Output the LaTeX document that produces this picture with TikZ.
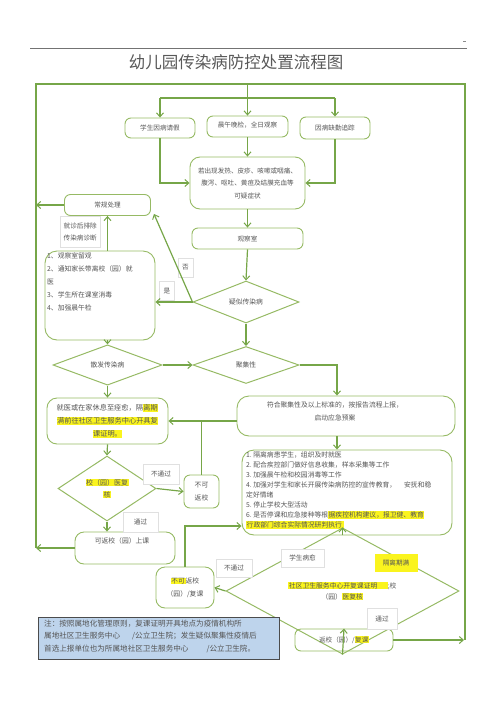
\documentclass[tikz,border=0pt]{standalone}
\usepackage{fontspec}
\setmainfont{Noto Sans CJK SC}
\usetikzlibrary{shapes.geometric,arrows.meta}
\definecolor{gline}{RGB}{118,166,72}
\definecolor{bline}{RGB}{150,186,100}
\definecolor{txt}{RGB}{85,85,85}
\definecolor{hly}{RGB}{250,244,30}
\definecolor{notebg}{RGB}{190,212,236}
\newcommand{\hlt}[1]{{\setlength{\fboxsep}{0.5pt}\colorbox{hly}{#1}}}
\begin{document}
\begin{tikzpicture}[x=1pt,y=-1pt,
 con/.style={draw=gline, line width=1.2pt},
 arr/.style={con, -{Straight Barb[length=4pt,width=7pt,line width=1pt]}},
 box/.style={draw=bline, line width=0.9pt, rounded corners=6pt, text=txt, inner sep=0pt, align=center, font=\fontsize{6.6}{12.5}\selectfont},
 dia/.style={diamond, draw=bline, line width=1pt, inner sep=0pt, text=txt, align=center, font=\fontsize{6.8}{12}\selectfont},
 lab/.style={draw=black!12, fill=white, text=txt, inner sep=0pt, font=\fontsize{6.6}{8}\selectfont},
 txtn/.style={text=txt, inner sep=0pt, align=left, font=\fontsize{6.8}{12.8}\selectfont},
]
\useasboundingbox (0,0) rectangle (496,702);
% header
\draw[black!55, line width=0.6pt] (30,48) -- (467,48);
\draw[black!45, line width=0.5pt] (463,41) -- (466,41);
\node[text=black!65, font=\fontsize{16.5}{18}\selectfont, inner sep=0pt] (title) at (236,62) {幼儿园传染病防控处置流程图};

% nodes
\node[box, minimum width=70pt, minimum height=20pt] (sick) at (160,128) {学生因病请假};
\node[box, minimum width=81pt, minimum height=21pt, text depth=3pt] (check) at (247.5,126.5) {晨午晚检，全日观察};
\node[box, minimum width=70pt, minimum height=22pt] (absent) at (335,128) {因病缺勤追踪};
\node[box, minimum width=115pt, minimum height=52pt, rounded corners=10pt] (sym) at (247.5,183) {若出现发热、皮疹、咳嗽或咽痛、\\腹泻、呕吐、黄疸及结膜充血等\\可疑症状};
\node[box, minimum width=86pt, minimum height=21pt] (routine) at (107.5,205) {常规处理};
\node[lab, minimum width=40pt, minimum height=31pt, align=left, font=\fontsize{6.6}{12}\selectfont, anchor=north west] (excl) at (60,216) {就诊后排除\\传染病诊断};
\node[box, minimum width=111pt, minimum height=21pt] (obs) at (247.5,238.5) {观察室};
\node[dia, minimum width=106pt, minimum height=42pt] (susp) at (246,302) {疑似传染病};
\node[box, minimum width=110pt, minimum height=89pt, rounded corners=12pt] (steps) at (100,295.5) {};
\node[txtn, anchor=north west] (stepst) at (47,253) {1、观察室留观\\2、通知家长带离校（园）就\\医\\3、学生所在课室消毒\\4、加强晨午检};
\node[dia, minimum width=109pt, minimum height=37pt] (sporadic) at (107.5,365) {散发传染病};
\node[dia, minimum width=106pt, minimum height=37pt] (cluster) at (246,365) {聚集性};
\node[box, minimum width=121pt, minimum height=46pt, rounded corners=10pt, font=\fontsize{7.2}{13}\selectfont] (recover) at (107.5,421) {就医或在家休息至痊愈，隔\hlt{离期}\\\hlt{满前往社区卫生服务中心开具复}\\\hlt{课证明。}};
\node[box, minimum width=218pt, minimum height=40pt, rounded corners=12pt] (report) at (346,416) {};
\node[txtn, align=center, font=\fontsize{6.8}{13}\selectfont] (reportt) at (335,411) {符合聚集性及以上标准的，按报告流程上报，\\启动应急预案};
\node[box, minimum width=210pt, minimum height=85pt, rounded corners=12pt] (bigbox) at (347,492.5) {};
\node[txtn, anchor=north west, font=\fontsize{6.8}{10}\selectfont] (bigt) at (246,451.5) {1.\ 隔离病患学生，组织及时就医\\2.\ 配合疾控部门做好信息收集，样本采集等工作\\3.\ 加强晨午检和校园消毒等工作\\4.\ 加强对学生和家长开展传染病防控的宣传教育，\hspace{8pt}安抚和稳\\定好情绪\\5.\ 停止学校大型活动\\6.\ 是否停课和应急接种等根\hlt{据疾控机构建议，报卫健、教育}\\\hlt{行政部门综合实际情况研判执行\ }};
\node[dia, minimum width=98pt, minimum height=65pt, font=\fontsize{7}{12}\selectfont] (review) at (107,488.5) {\hlt{校（园）医复}\\\hlt{核}};
\node[box, minimum width=35pt, minimum height=33pt, font=\fontsize{6.8}{13}\selectfont] (noreturn1) at (201.5,491.5) {不可\\返校};
\node[box, minimum width=100pt, minimum height=32pt, rounded corners=9pt] (canreturn) at (125,548) {};
\node[txtn, font=\fontsize{6.8}{10}\selectfont] (canreturnt) at (122,541) {可返校（园）上课};
\node[box, minimum width=58pt, minimum height=41pt, rounded corners=9pt, font=\fontsize{6.8}{13}\selectfont] (noreturn2) at (185,587.5) {\hlt{不可}返校\\（园）/复课};
\node[dia, minimum width=233pt, minimum height=56pt, font=\fontsize{6.8}{11}\selectfont] (community) at (342.5,591) {\hlt{社区卫生服务中心开复课证明\hspace{10pt}};校\\（园）\hlt{医复核}};
\node[box, minimum width=98pt, minimum height=22pt] (returnok) at (344,640) {返校（园）/\hlt{复课}};

% labels
\node[lab, minimum width=15pt, minimum height=19pt] (lyes) at (167,291) {是};
\node[lab, minimum width=15pt, minimum height=19pt] (lno) at (185.5,267.5) {否};
\node[lab, minimum width=36pt, minimum height=20pt] (lfail1) at (161,474) {不通过};
\node[lab, minimum width=35pt, minimum height=20pt] (lpass1) at (140.5,522) {通过};
\node[lab, minimum width=43pt, minimum height=18pt] (lheal) at (302.5,558) {学生病愈};
\node[lab, draw=none, fill=hly, minimum width=43pt, minimum height=18pt] (liso) at (396,563) {隔离期满};
\node[lab, minimum width=36pt, minimum height=18pt] (lfail2) at (234,568) {不通过};
\node[lab, minimum width=30pt, minimum height=21pt] (lpass2) at (382,618.5) {通过};

% note
\node[draw=black!70, fill=notebg, line width=0.7pt, minimum width=241pt, minimum height=42pt, inner sep=0pt, anchor=north west] (note) at (38,617) {};
\node[txtn, anchor=north west, font=\fontsize{7.6}{12.5}\selectfont] (notet) at (44,619.5) {注：按照属地化管理原则，复课证明开具地点为疫情机构所\\属地社区卫生服务中心\hspace{12pt}/公立卫生院；发生疑似聚集性疫情后\\首选上报单位也为所属地社区卫生服务中心\hspace{18pt}/公立卫生院。};

% frame and top distribution
\coordinate (fL) at (36,84);
\coordinate (fR) at (465,84);
\coordinate (ftop) at (247.5,84);
\coordinate (hbar) at (0,98);
\coordinate (col) at (337,0);
\coordinate (h526) at (0,526);
\draw[con] (fL |- canreturn.west) -- (fL) -- (fR) -- (fR |- returnok.east);
\draw[arr] (ftop) -- (check.north);
\draw[con] (sick.north |- hbar) -- (absent.north |- hbar);
\draw[arr] (sick.north |- hbar) -- (sick.north);
\draw[arr] (absent.north |- hbar) -- (absent.north);

% connectors
\draw[arr] (sick.south) |- (sym.west);
\draw[arr] (absent.south) |- (sym.east);
\draw[arr] (check.south) -- (sym.north);
\draw[arr] (sym.south) -- (obs.north);
\draw[arr] (obs.south) -- (susp.north);
\draw[arr] (susp.west) -- (susp.west -| steps.east);
\draw[arr] (susp.west) -- ([xshift=3pt,yshift=2pt]routine.south east);
\draw[arr] (steps.north -| routine.south) -- (routine.south);
\draw[arr] (routine.west) -- (routine.west -| fL);
\draw[arr] (steps.south -| sporadic.north) -- (sporadic.north);
\draw[arr] (sporadic.east) -- (cluster.west);
\draw[arr] (susp.south) -- (cluster.north);
\draw[arr] (cluster.east) -| (col |- report.north);
\draw[arr] (sporadic.south) -- (recover.north);
\draw[arr] (report.west |- recover.east) -- (recover.east);
\draw[con] (noreturn1.north) -- (noreturn1.north |- recover.east);
\draw[arr] (recover.south) -- (review.north);
\draw[arr] (review.east) -- (noreturn1.west);
\draw[arr] (review.south) -- (review.south |- canreturn.north);
\draw[arr] (canreturn.west) -- (canreturn.west -| fL);
\draw[arr] (col |- report.south) -- (col |- bigbox.north);
\draw[arr] (noreturn2.north) |- (bigbox.west |- h526);
\draw[arr] (community.north |- bigbox.south) -- (community.north);
\draw[arr] (community.west) -- (noreturn2.east);
\draw[arr] (community.south) -- (returnok.north);
\draw[arr, shorten >=1pt] (returnok.east) -- (returnok.east -| fR);
\end{tikzpicture}
\end{document}
